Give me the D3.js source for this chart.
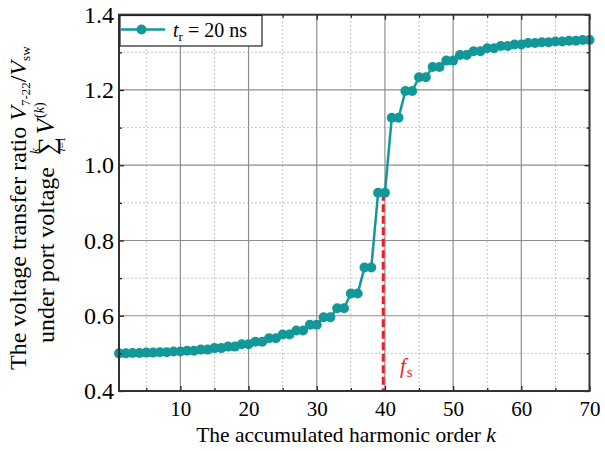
<!DOCTYPE html>
<html>
<head>
<meta charset="utf-8">
<script src="https://cdn.jsdelivr.net/npm/d3@7"></script>
<style>
  body { margin: 0; background: #fff; }
</style>
</head>
<body>
<div id="chart-area"></div>
<script>
(function () {
    'use strict';

    const serif = "'Liberation Serif', 'Times New Roman', 'DejaVu Serif', serif";

    // harmonic order k
    const orders = [1, 2, 3, 4, 5, 6, 7, 8, 9, 10, 11, 12, 13, 14, 15, 16, 17, 18, 19, 20,
        21, 22, 23, 24, 25, 26, 27, 28, 29, 30, 31, 32, 33, 34, 35, 36, 37, 38, 39, 40,
        41, 42, 43, 44, 45, 46, 47, 48, 49, 50, 51, 52, 53, 54, 55, 56, 57, 58, 59, 60,
        61, 62, 63, 64, 65, 66, 67, 68, 69, 70];

    // voltage transfer ratio, tr = 20 ns
    const ratio = [0.500, 0.500, 0.501, 0.501, 0.502, 0.502, 0.503, 0.503, 0.505, 0.505,
        0.507, 0.507, 0.510, 0.510, 0.514, 0.514, 0.518, 0.518, 0.524, 0.524,
        0.531, 0.531, 0.540, 0.540, 0.550, 0.550, 0.561, 0.561, 0.576, 0.576,
        0.596, 0.596, 0.620, 0.620, 0.659, 0.659, 0.728, 0.728, 0.927, 0.927,
        1.126, 1.126, 1.197, 1.197, 1.234, 1.234, 1.261, 1.261, 1.278, 1.278,
        1.293, 1.293, 1.303, 1.303, 1.311, 1.311, 1.317, 1.317, 1.321, 1.321,
        1.325, 1.325, 1.327, 1.327, 1.329, 1.329, 1.331, 1.331, 1.333, 1.333];

    const xMajor = [10, 20, 30, 40, 50, 60, 70];
    const xMinor = [5, 15, 25, 35, 45, 55, 65];
    const yMajor = [0.4, 0.6, 0.8, 1.0, 1.2, 1.4];
    const yMinor = [0.5, 0.7, 0.9, 1.1, 1.3];

    // switching frequency marker
    const fsOrder = 39.75;
    const fsRatio = 0.927;

    const teal = '#13989a';
    const red = '#ee1c25';

    const svg = d3.select('#chart-area')
        .append('svg')
        .attr('width', 605)
        .attr('height', 451)
        .style('font-family', serif);

    const x = d3.scaleLinear().domain([1, 70]).range([119, 589.5]);
    const y = d3.scaleLinear().domain([0.4, 1.4]).range([391, 14.7]);

    const grid = svg.append('g');

    // minor grid (dotted)
    grid.selectAll('.vmin').data(xMinor).enter().append('line')
        .attr('x1', d => x(d)).attr('x2', d => x(d))
        .attr('y1', y(0.4)).attr('y2', y(1.4))
        .attr('stroke', '#c4c4c4').attr('stroke-width', 1)
        .attr('stroke-dasharray', '2,2');
    grid.selectAll('.hmin').data(yMinor).enter().append('line')
        .attr('x1', x(1)).attr('x2', x(70))
        .attr('y1', d => y(d)).attr('y2', d => y(d))
        .attr('stroke', '#c4c4c4').attr('stroke-width', 1)
        .attr('stroke-dasharray', '2,2');

    // major grid (solid)
    grid.selectAll('.vmaj').data(xMajor.slice(0, -1)).enter().append('line')
        .attr('x1', d => x(d)).attr('x2', d => x(d))
        .attr('y1', y(0.4)).attr('y2', y(1.4))
        .attr('stroke', '#8e8e8e').attr('stroke-width', 1.2);
    grid.selectAll('.hmaj').data(yMajor.slice(1, -1)).enter().append('line')
        .attr('x1', x(1)).attr('x2', x(70))
        .attr('y1', d => y(d)).attr('y2', d => y(d))
        .attr('stroke', '#8e8e8e').attr('stroke-width', 1.2);

    // dashed fs line
    svg.append('line')
        .attr('x1', x(fsOrder)).attr('x2', x(fsOrder))
        .attr('y1', y(fsRatio)).attr('y2', y(0.4))
        .attr('stroke', red).attr('stroke-width', 3)
        .attr('stroke-dasharray', '8,3.5');

    svg.append('text')
        .attr('x', 400).attr('y', 373)
        .attr('fill', red)
        .style('font-size', '21px')
        .html('<tspan font-style="italic">f</tspan><tspan font-size="15px" dx="1" dy="4">s</tspan>');

    // data line + markers
    const pts = orders.map((k, i) => [k, ratio[i]]);
    svg.append('path')
        .datum(pts)
        .attr('fill', 'none')
        .attr('stroke', teal)
        .attr('stroke-width', 2.5)
        .attr('d', d3.line().x(d => x(d[0])).y(d => y(d[1])));
    svg.selectAll('.dot').data(pts).enter().append('circle')
        .attr('cx', d => x(d[0]))
        .attr('cy', d => y(d[1]))
        .attr('r', 5)
        .attr('fill', teal);

    // axes with inward ticks
    const bottom = svg.append('g').attr('transform', 'translate(0,' + y(0.4) + ')')
        .call(d3.axisBottom(x).tickValues(xMajor).tickSize(-5).tickPadding(10).tickFormat(d3.format('d')));
    bottom.selectAll('text').style('font-size', '21px');
    svg.append('g').attr('transform', 'translate(0,' + y(0.4) + ')')
        .call(d3.axisBottom(x).tickValues(xMinor).tickSize(-3).tickFormat(''));
    svg.append('g').attr('transform', 'translate(0,' + y(1.4) + ')')
        .call(d3.axisTop(x).tickValues(xMajor).tickSize(-5).tickFormat(''));
    svg.append('g').attr('transform', 'translate(0,' + y(1.4) + ')')
        .call(d3.axisTop(x).tickValues(xMinor).tickSize(-3).tickFormat(''));

    const left = svg.append('g').attr('transform', 'translate(' + x(1) + ',0)')
        .call(d3.axisLeft(y).tickValues(yMajor).tickSize(-5).tickPadding(5).tickFormat(d3.format('.1f')));
    left.selectAll('text').style('font-size', '24px');
    svg.append('g').attr('transform', 'translate(' + x(1) + ',0)')
        .call(d3.axisLeft(y).tickValues(yMinor).tickSize(-3).tickFormat(''));
    svg.append('g').attr('transform', 'translate(' + x(70) + ',0)')
        .call(d3.axisRight(y).tickValues(yMajor).tickSize(-5).tickFormat(''));
    svg.append('g').attr('transform', 'translate(' + x(70) + ',0)')
        .call(d3.axisRight(y).tickValues(yMinor).tickSize(-3).tickFormat(''));

    svg.selectAll('.domain').remove();
    svg.selectAll('.tick line').attr('stroke', '#222').attr('stroke-width', 1.3);

    // frame
    svg.append('rect')
        .attr('x', x(1)).attr('y', y(1.4))
        .attr('width', x(70) - x(1)).attr('height', y(0.4) - y(1.4))
        .attr('fill', 'none').attr('stroke', '#333').attr('stroke-width', 2);

    // legend
    const lg = svg.append('g');
    lg.append('rect')
        .attr('x', 120).attr('y', 15.5).attr('width', 142).attr('height', 30.5)
        .attr('fill', '#fff').attr('stroke', '#222').attr('stroke-width', 1.2);
    lg.append('line')
        .attr('x1', 121).attr('x2', 165).attr('y1', 29.5).attr('y2', 29.5)
        .attr('stroke', teal).attr('stroke-width', 2.5);
    lg.append('circle').attr('cx', 141.5).attr('cy', 29.5).attr('r', 5).attr('fill', teal);
    lg.append('text')
        .attr('x', 173).attr('y', 37)
        .style('font-size', '20px')
        .html('<tspan font-style="italic">t</tspan><tspan font-size="13px" dy="4">r</tspan><tspan dy="-4"> = 20 ns</tspan>');

    // x title
    svg.append('text')
        .attr('x', 346).attr('y', 442)
        .attr('text-anchor', 'middle')
        .style('font-size', '21.5px')
        .html('The accumulated harmonic order <tspan font-style="italic">k</tspan>');

    // y title, line 1
    svg.append('text')
        .attr('transform', 'translate(26,370) rotate(-90)')
        .style('font-size', '24px')
        .html('The voltage transfer ratio <tspan font-style="italic">V</tspan>' +
            '<tspan font-size="13px" dy="4">7-22</tspan><tspan dy="-4">/</tspan>' +
            '<tspan font-style="italic">V</tspan><tspan font-size="13px" dy="4">sw</tspan>');

    // y title, line 2 with the sum symbol
    const l2 = svg.append('g').attr('transform', 'translate(54,343) rotate(-90)');
    const t1 = l2.append('text').attr('x', 0).attr('y', 0)
        .style('font-size', '24px').text('under port voltage');
    const w1 = t1.node().getComputedTextLength() + 12;
    const sig = l2.append('text').attr('x', w1).attr('y', 1)
        .style('font-size', '25px').text('\u2211');
    const ws = sig.node().getComputedTextLength();
    l2.append('text').attr('x', w1 + 1).attr('y', -15)
        .style('font-size', '13px').style('font-style', 'italic').text('k');
    l2.append('text').attr('x', w1 + ws / 2 + 2).attr('y', 11)
        .attr('text-anchor', 'middle').style('font-size', '11px')
        .html('<tspan font-style="italic">i</tspan>=1');
    l2.append('text').attr('x', w1 + ws + 3).attr('y', 0)
        .style('font-size', '25px')
        .html('<tspan font-style="italic">V</tspan><tspan font-size="14px" dx="1" dy="-10">(<tspan font-style="italic">k</tspan>)</tspan>');

    // d3 axis groups carry their own font attribute; force serif everywhere
    svg.selectAll('text').style('font-family', serif).attr('fill', function () {
        return d3.select(this).attr('fill') || '#000';
    });
})();
</script>
</body>
</html>
